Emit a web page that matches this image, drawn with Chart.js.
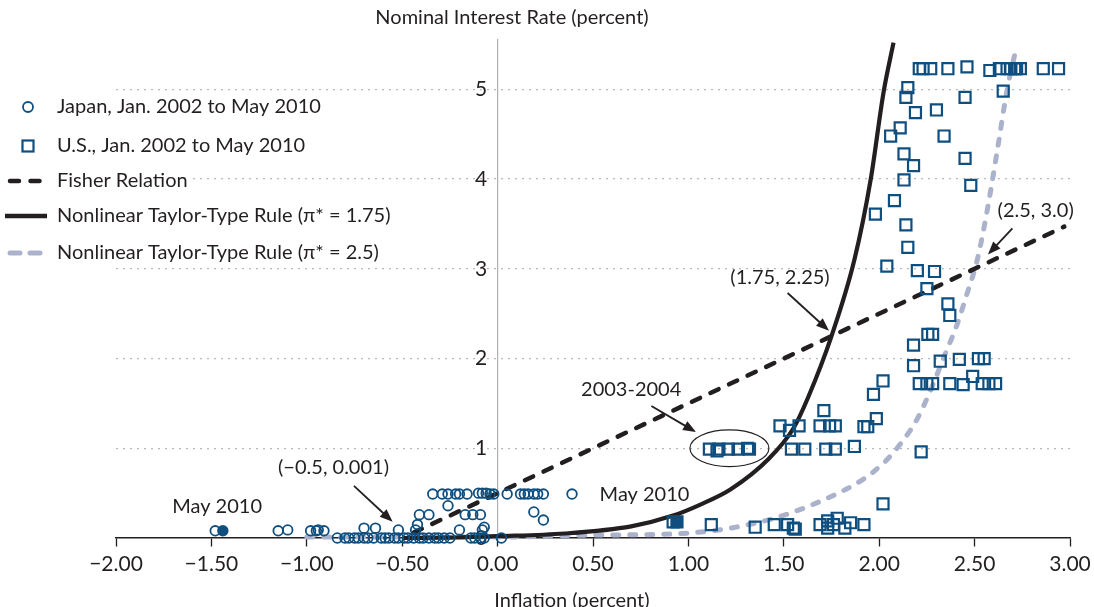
<!DOCTYPE html>
<html lang="en">
<head>
<meta charset="UTF-8">
<title>Inflation and Nominal Interest Rates, Japan and U.S.</title>
<script src="https://cdn.jsdelivr.net/npm/chart.js"></script>
<style>
    html, body { margin: 0; padding: 0; background: #fff; }
    .chart-box { position: relative; width: 1094px; height: 607px; }
</style>
</head>
<body>
<div class="chart-box"><canvas id="rateChart" width="1094" height="607"></canvas></div>
<script>
// Japan, Jan. 2002 to May 2010: inflation (x) and nominal rate (y)
const japanInflation = [
    -0.34, -0.29, -0.26, -0.22, -0.20, -0.16, -0.10, -0.08, -0.06, -0.04, -0.02, 0.05, 0.12, 0.14, 0.16, 0.19, 0.21, 0.24, 0.39,
    -0.26, 0.19, -0.41, -0.36, -0.17, -0.13, -0.09, 0.24, -0.42, -0.07,
    -1.48, -1.15, -1.10, -0.98, -0.95, -0.94, -0.91, -0.70, -0.64, -0.52, -0.43, -0.20, -0.08,
    -0.84, -0.80, -0.78, -0.75, -0.73, -0.70, -0.68, -0.65, -0.61, -0.59, -0.57, -0.54, -0.52, -0.49,
    -0.47, -0.44, -0.41, -0.39, -0.36, -0.33, -0.31, -0.28, -0.25, -0.14, -0.12, -0.09, -0.07, 0.02
];
const japanRate = [
    0.49, 0.49, 0.49, 0.49, 0.49, 0.49, 0.50, 0.50, 0.50, 0.49, 0.49, 0.49, 0.49, 0.49, 0.49, 0.49, 0.49, 0.49, 0.49,
    0.36, 0.29, 0.26, 0.26, 0.26, 0.26, 0.26, 0.20, 0.15, 0.12,
    0.08, 0.08, 0.09, 0.08, 0.08, 0.09, 0.08, 0.11, 0.11, 0.09, 0.09, 0.09, 0.09,
    0.00, 0.00, 0.00, 0.00, 0.00, 0.00, 0.00, 0.00, 0.00, 0.00, 0.00, 0.00, 0.00, 0.00,
    0.00, 0.00, 0.00, 0.00, 0.00, 0.00, 0.00, 0.00, 0.00, 0.00, 0.00, 0.00, 0.00, 0.00
];
const japanMay2010Inflation = [-1.44];
const japanMay2010Rate = [0.08];

// U.S., Jan. 2002 to May 2010
const usInflation = [
    0.92, 1.12, 1.35, 1.45, 1.52, 1.55, 1.56, 1.69, 1.73, 1.73, 1.76, 1.78, 1.82, 1.85, 1.92, 2.02,
    1.11, 1.15, 1.16, 1.21, 1.26, 1.31, 1.32,
    1.54, 1.61, 1.72, 1.77, 1.87, 2.22,
    1.48, 1.53, 1.58, 1.69, 1.74, 1.77, 1.92, 1.94,
    1.71, 1.985, 1.97, 2.02,
    2.21, 2.25, 2.28, 2.37, 2.44, 2.54, 2.575, 2.61,
    2.49, 2.18, 2.32, 2.42, 2.52, 2.55, 2.18, 2.255, 2.28, 2.36, 2.37, 2.25,
    2.20, 2.29, 2.04, 2.15, 2.14, 1.98, 2.08, 2.48, 2.13, 2.18, 2.45, 2.13, 2.06, 2.34, 2.11, 2.19, 2.30, 2.14, 2.45, 2.15, 2.65,
    2.21, 2.23, 2.27, 2.36, 2.46, 2.58, 2.63, 2.67, 2.69, 2.71, 2.72, 2.74, 2.86, 2.94
];
const usRate = [
    0.18, 0.15, 0.12, 0.15, 0.15, 0.11, 0.10, 0.15, 0.19, 0.11, 0.15, 0.22, 0.11, 0.17, 0.15, 0.38,
    0.99, 0.97, 0.99, 0.99, 0.99, 1.00, 0.99,
    0.99, 0.99, 0.99, 0.99, 1.02, 0.96,
    1.25, 1.20, 1.25, 1.25, 1.25, 1.25, 1.24, 1.24,
    1.42, 1.33, 1.60, 1.75,
    1.72, 1.72, 1.72, 1.72, 1.71, 1.72, 1.72, 1.72,
    1.80, 1.92, 1.97, 1.99, 2.00, 2.00, 2.15, 2.27, 2.27, 2.61, 2.48, 2.78,
    2.98, 2.97, 3.03, 3.24, 3.49, 3.61, 3.76, 3.93, 3.99, 4.15, 4.23, 4.28, 4.48, 4.48, 4.57, 4.74, 4.77, 4.91, 4.91, 5.02, 4.98,
    5.23, 5.23, 5.23, 5.23, 5.25, 5.21, 5.23, 5.23, 5.23, 5.23, 5.23, 5.23, 5.23, 5.23
];
const usMay2010Inflation = [0.94];
const usMay2010Rate = [0.18];

// Fisher relation
const fisherInflation = [-0.44, 2.97];
const fisherRate = [0.06, 3.47];

// Nonlinear Taylor-type rule, pi* = 1.75
const taylor175Inflation = [-0.50, -0.25, 0.00, 0.35, 0.70, 0.92, 1.06, 1.22, 1.42, 1.55, 1.63, 1.75, 1.87, 1.955, 2.023, 2.075];
const taylor175Rate = [0.00, 0.005, 0.02, 0.05, 0.13, 0.25, 0.37, 0.54, 0.88, 1.22, 1.58, 2.25, 3.10, 3.99, 4.97, 5.52];

// Nonlinear Taylor-type rule, pi* = 2.5
const taylor25Inflation = [-1.00, -0.50, 0.00, 0.435, 0.96, 1.22, 1.48, 1.745, 1.92, 2.025, 2.112, 2.20, 2.27, 2.34, 2.41, 2.46, 2.514, 2.566, 2.619, 2.67, 2.72];
const taylor25Rate = [0.01, 0.01, 0.01, 0.03, 0.05, 0.11, 0.24, 0.46, 0.66, 0.84, 1.05, 1.33, 1.65, 2.02, 2.39, 2.72, 3.10, 3.65, 4.32, 4.99, 5.48];

const xTicks = [-2, -1.5, -1, -0.5, 0, 0.5, 1, 1.5, 2, 2.5, 3];
const yTicks = [0, 1, 2, 3, 4, 5];

const legendLabels = [
    'Japan, Jan. 2002 to May 2010',
    'U.S., Jan. 2002 to May 2010',
    'Fisher Relation',
    'Nonlinear Taylor-Type Rule (\u03c0* = 1.75)',
    'Nonlinear Taylor-Type Rule (\u03c0* = 2.5)'
];

const BLUE = '#0e4f80';
const INK = '#231f20';
const GREY_LINE = '#aab3cb';
const FONT = 'Lato, "Open Sans", sans-serif';

function toPoints(xs, ys) {
    return xs.map((x, i) => ({ x: x, y: ys[i] }));
}

function fmtX(v) {
    return v.toFixed(2).replace('-', '\u2212');
}

// tick labels may hang over the plot edges, don't let them shrink it
function noEdgePadding(scale) {
    scale.paddingLeft = 0;
    scale.paddingRight = 0;
    scale.paddingTop = 0;
    scale.paddingBottom = 0;
}

// annotation texts, arrows and ellipse in data coordinates
const notes = [
    { text: '(\u22120.5, 0.001)', x: -0.86, y: 0.78 },
    { text: 'May 2010', x: -1.47, y: 0.345 },
    { text: 'May 2010', x: 0.77, y: 0.48 },
    { text: '2003-2004', x: 0.70, y: 1.66 },
    { text: '(1.75, 2.25)', x: 1.48, y: 2.90 },
    { text: '(2.5, 3.0)', x: 2.82, y: 3.645 }
];
const arrows = [
    { from: [-0.753, 0.58], to: [-0.55, 0.18] },
    { from: [0.806, 1.47], to: [1.04, 1.18] },
    { from: [1.52, 2.73], to: [1.737, 2.31] },
    { from: [2.698, 3.45], to: [2.57, 3.16] }
];
const ellipse2003 = { x: 1.215, y: 1.0, rx: 0.207, ry: 0.204 };

function drawArrow(ctx, x1, y1, x2, y2) {
    const ang = Math.atan2(y2 - y1, x2 - x1);
    const head = 13, half = 5;
    ctx.beginPath();
    ctx.moveTo(x1, y1);
    ctx.lineTo(x2 - Math.cos(ang) * head * 0.8, y2 - Math.sin(ang) * head * 0.8);
    ctx.stroke();
    ctx.beginPath();
    ctx.moveTo(x2, y2);
    ctx.lineTo(x2 - Math.cos(ang) * head - Math.sin(ang) * half, y2 - Math.sin(ang) * head + Math.cos(ang) * half);
    ctx.lineTo(x2 - Math.cos(ang) * head + Math.sin(ang) * half, y2 - Math.sin(ang) * head - Math.cos(ang) * half);
    ctx.closePath();
    ctx.fill();
}

const extrasPlugin = {
    id: 'extras',
    afterDraw(chart) {
        const ctx = chart.ctx;
        const xs = chart.scales.x, ys = chart.scales.y;
        ctx.save();
        ctx.fillStyle = INK;
        ctx.strokeStyle = INK;
        ctx.font = '20px ' + FONT;
        ctx.textAlign = 'center';
        ctx.textBaseline = 'middle';

        notes.forEach(n => {
            ctx.fillText(n.text, xs.getPixelForValue(n.x), ys.getPixelForValue(n.y));
        });

        ctx.lineWidth = 1.8;
        arrows.forEach(a => {
            drawArrow(ctx,
                xs.getPixelForValue(a.from[0]), ys.getPixelForValue(a.from[1]),
                xs.getPixelForValue(a.to[0]), ys.getPixelForValue(a.to[1]));
        });

        // ellipse round the 2003-2004 points
        const ex = xs.getPixelForValue(ellipse2003.x);
        const ey = ys.getPixelForValue(ellipse2003.y);
        const erx = Math.abs(xs.getPixelForValue(ellipse2003.x + ellipse2003.rx) - ex);
        const ery = Math.abs(ys.getPixelForValue(ellipse2003.y + ellipse2003.ry) - ey);
        ctx.lineWidth = 1.2;
        ctx.beginPath();
        ctx.ellipse(ex, ey, erx, ery, 0, 0, Math.PI * 2);
        ctx.stroke();

        // axis titles
        ctx.fillText('Nominal Interest Rate (percent)', 512, 18);
        ctx.textBaseline = 'alphabetic';
        ctx.fillText('Inflation (percent)', 572, 607);

        // legend
        const rows = [107, 146, 181, 216, 253];
        ctx.textAlign = 'left';
        ctx.textBaseline = 'middle';
        rows.forEach((y, i) => {
            const w = ctx.measureText(legendLabels[i]).width;
            ctx.fillStyle = '#fff';
            ctx.fillRect(55, y - 11, w + 6, 22);
            ctx.fillStyle = INK;
            ctx.fillText(legendLabels[i], 57, y);
        });

        ctx.strokeStyle = BLUE;
        ctx.lineWidth = 1.8;
        ctx.beginPath();
        ctx.arc(28, rows[0], 5, 0, Math.PI * 2);
        ctx.stroke();
        ctx.lineWidth = 2.2;
        ctx.strokeRect(22.5, rows[1] - 5.5, 11, 11);

        ctx.lineCap = 'round';
        ctx.strokeStyle = INK;
        ctx.lineWidth = 4.5;
        ctx.setLineDash([9, 11.5]);
        ctx.beginPath();
        ctx.moveTo(10, rows[2]);
        ctx.lineTo(42, rows[2]);
        ctx.stroke();

        ctx.setLineDash([]);
        ctx.lineCap = 'butt';
        ctx.lineWidth = 4.5;
        ctx.beginPath();
        ctx.moveTo(5, rows[3]);
        ctx.lineTo(47, rows[3]);
        ctx.stroke();

        ctx.lineCap = 'round';
        ctx.strokeStyle = GREY_LINE;
        ctx.lineWidth = 5;
        ctx.setLineDash([10, 10]);
        ctx.beginPath();
        ctx.moveTo(10, rows[4]);
        ctx.lineTo(42, rows[4]);
        ctx.stroke();
        ctx.restore();
    }
};

function buildChart() {
    const ctx = document.getElementById('rateChart').getContext('2d');
    new Chart(ctx, {
        type: 'scatter',
        data: {
            datasets: [
                {
                    label: 'Japan May 2010',
                    data: toPoints(japanMay2010Inflation, japanMay2010Rate),
                    pointStyle: 'circle', pointRadius: 4.8,
                    borderColor: BLUE, backgroundColor: BLUE, borderWidth: 1.8, clip: false
                },
                {
                    label: 'U.S. May 2010',
                    data: toPoints(usMay2010Inflation, usMay2010Rate),
                    pointStyle: 'rect', pointRadius: 7.8,
                    borderColor: BLUE, backgroundColor: BLUE, borderWidth: 2.2, clip: false
                },
                {
                    label: legendLabels[0],
                    data: toPoints(japanInflation, japanRate),
                    pointStyle: 'circle', pointRadius: 4.8,
                    borderColor: BLUE, backgroundColor: 'rgba(0,0,0,0)', borderWidth: 1.8, clip: false
                },
                {
                    label: legendLabels[1],
                    data: toPoints(usInflation, usRate),
                    pointStyle: 'rect', pointRadius: 7.8,
                    borderColor: BLUE, backgroundColor: 'rgba(0,0,0,0)', borderWidth: 2.2, clip: false
                },
                {
                    label: legendLabels[2],
                    data: toPoints(fisherInflation, fisherRate),
                    showLine: true, pointRadius: 0,
                    borderColor: INK, borderWidth: 4.5, borderDash: [9, 11.5], borderCapStyle: 'round', clip: false
                },
                {
                    label: legendLabels[3],
                    data: toPoints(taylor175Inflation, taylor175Rate),
                    showLine: true, pointRadius: 0, cubicInterpolationMode: 'monotone',
                    borderColor: INK, borderWidth: 4.2, clip: false
                },
                {
                    label: legendLabels[4],
                    data: toPoints(taylor25Inflation, taylor25Rate),
                    showLine: true, pointRadius: 0, cubicInterpolationMode: 'monotone',
                    borderColor: GREY_LINE, borderWidth: 5, borderDash: [6, 11], borderCapStyle: 'round', clip: false
                }
            ]
        },
        options: {
            responsive: false,
            animation: false,
            events: [],
            layout: { padding: { left: 116, right: 24, top: 40, bottom: 69 } },
            plugins: { legend: { display: false }, tooltip: { enabled: false } },
            scales: {
                x: {
                    type: 'linear',
                    position: { y: 0 },
                    min: xTicks[0], max: xTicks[xTicks.length - 1],
                    afterBuildTicks: scale => { scale.ticks = xTicks.map(v => ({ value: v })); },
                    afterFit: noEdgePadding,
                    ticks: {
                        callback: v => fmtX(v),
                        font: { family: FONT, size: 21 },
                        color: INK,
                        padding: 6,
                        maxRotation: 0
                    },
                    grid: { drawOnChartArea: false, drawTicks: true, tickLength: 8, tickColor: INK, tickWidth: 1.3 },
                    border: { color: INK, width: 1.5 }
                },
                y: {
                    type: 'linear',
                    position: { x: 0 },
                    min: 0, max: 5.55,
                    afterBuildTicks: scale => { scale.ticks = yTicks.map(v => ({ value: v })); },
                    afterFit: noEdgePadding,
                    ticks: {
                        // the label sits flush on the axis, so keep an en space after it
                        callback: v => v + '\u2002',
                        font: { family: FONT, size: 21 },
                        color: INK
                    },
                    grid: {
                        drawTicks: false,
                        color: c => (c.tick && c.tick.value === 0) ? 'rgba(0,0,0,0)' : '#b8b8b8',
                        lineWidth: 1.3
                    },
                    border: { color: '#b0b0b0', width: 1.2, dash: [2, 5] }
                }
            }
        },
        plugins: [extrasPlugin]
    });
}

if (document.fonts && document.fonts.load) {
    document.fonts.load('20px Lato').then(buildChart, buildChart);
} else {
    buildChart();
}
</script>
</body>
</html>
